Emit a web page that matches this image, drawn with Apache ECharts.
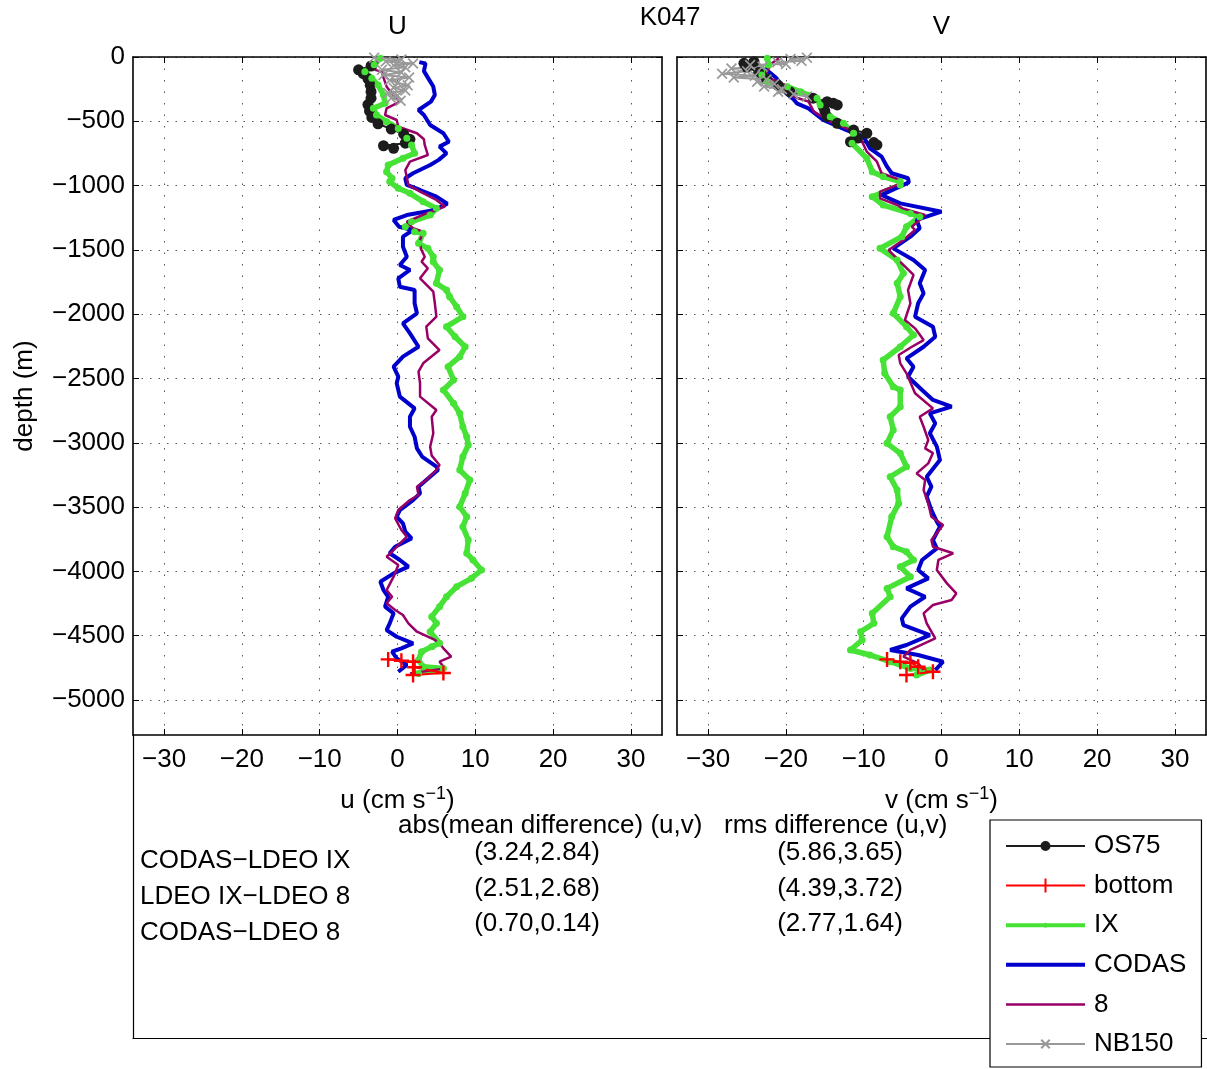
<!DOCTYPE html>
<html><head><meta charset="utf-8">
<script src="https://cdn.jsdelivr.net/npm/echarts@6/dist/echarts.min.js"></script>
<style>html,body{margin:0;padding:0;background:#fff}#c{width:1207px;height:1069px}</style>
</head><body><div id="c"></div>
<script>
// ---------- DATA (depth [m], velocity [cm/s]) ----------
const seriesNames = ['OS75', 'bottom', 'IX', 'CODAS', '8', 'NB150'];
const panelTitles = ['U', 'V'];
const stationTitle = 'K047';
const xTickLabels = [-30, -20, -10, 0, 10, 20, 30];
const yTickLabels = [0, -500, -1000, -1500, -2000, -2500, -3000, -3500, -4000, -4500, -5000];

const U_OS75 = [[-70,-3.4],[-100,-5.0],[-130,-4.4],[-170,-3.8],[-220,-3.5],[-270,-3.4],[-320,-3.4],[-370,-3.8],[-420,-3.6],[-470,-3.3],[-520,-2.5],[-560,-0.8],[-600,0.8],[-640,1.6],[-670,1.0],[-690,-1.8],[-710,-0.5]];
const U_bottom = [[-4684,-1.2],[-4695,0.5],[-4702,2.0],[-4745,2.2],[-4790,5.9],[-4805,2.0]];
const U_IX = [[-10,-2.2],[-60,-3.0],[-114,-4.2],[-166,-3.3],[-218,-2.5],[-295,-1.8],[-360,-1.6],[-399,-3.1],[-451,-2.7],[-503,-1.4],[-555,0.1],[-632,1.2],[-684,1.8],[-749,2.2],[-788,0.7],[-840,-1.2],[-892,-1.4],[-943,-0.7],[-969,-1.0],[-1021,0.1],[-1060,1.6],[-1125,3.3],[-1177,5.0],[-1229,4.2],[-1281,1.8],[-1320,1.0],[-1358,2.2],[-1371,3.3],[-1449,2.7],[-1488,3.9],[-1553,4.6],[-1592,4.6],[-1656,5.4],[-1760,5.0],[-1812,6.3],[-1864,6.7],[-1942,7.6],[-2019,8.4],[-2097,6.3],[-2175,7.4],[-2253,8.7],[-2330,8.0],[-2408,6.5],[-2512,7.2],[-2589,5.9],[-2693,7.2],[-2771,8.0],[-2875,8.4],[-2953,8.9],[-3017,9.1],[-3108,8.4],[-3211,8.0],[-3289,9.3],[-3393,8.7],[-3497,8.0],[-3575,8.9],[-3653,8.4],[-3756,9.1],[-3859,8.9],[-3911,9.7],[-3989,10.8],[-4054,9.5],[-4119,7.6],[-4197,6.3],[-4274,5.4],[-4352,4.4],[-4404,5.0],[-4469,4.2],[-4559,5.4],[-4585,4.4],[-4624,3.1],[-4689,2.7],[-4741,3.3],[-4754,5.9],[-4793,2.7]];
const U_CODAS = [[-40,2.8],[-50,3.6],[-110,3.4],[-170,4.0],[-230,4.6],[-295,4.8],[-347,4.3],[-412,2.7],[-451,3.4],[-529,4.2],[-593,5.9],[-659,6.6],[-697,5.4],[-749,6.3],[-800,5.3],[-840,4.2],[-904,2.0],[-943,1.0],[-995,1.2],[-1034,2.9],[-1086,5.0],[-1140,6.4],[-1190,4.8],[-1229,1.2],[-1267,-0.5],[-1320,0.2],[-1345,2.0],[-1397,0.7],[-1475,0.7],[-1553,1.2],[-1617,0.3],[-1656,1.6],[-1721,0.1],[-1786,0.3],[-1812,2.2],[-1915,2.2],[-1993,2.5],[-2071,0.7],[-2149,1.6],[-2253,2.7],[-2330,0.7],[-2408,-0.5],[-2486,0.1],[-2537,-0.1],[-2641,0.3],[-2732,2.2],[-2797,1.6],[-2875,1.6],[-2953,2.2],[-3043,2.5],[-3110,3.2],[-3186,5.0],[-3211,5.2],[-3289,3.7],[-3341,2.7],[-3393,2.9],[-3445,2.0],[-3523,0.3],[-3575,-0.1],[-3626,0.7],[-3690,1.0],[-3743,1.8],[-3808,-0.3],[-3859,-1.0],[-3911,0.3],[-3963,1.4],[-4015,-0.5],[-4080,-2.2],[-4145,-1.8],[-4197,-1.2],[-4274,-1.6],[-4326,-0.5],[-4404,-1.0],[-4456,-1.4],[-4508,-0.1],[-4559,2.0],[-4598,0.5],[-4624,-0.7],[-4676,-0.1],[-4728,1.2],[-4780,0.1]];
const U_8 = [[-20,-2.5],[-100,-2.9],[-114,-2.0],[-160,-1.8],[-231,-1.4],[-300,-0.5],[-347,0.3],[-399,-1.4],[-451,-1.6],[-490,-0.1],[-542,0.1],[-593,2.5],[-640,3.4],[-684,3.5],[-762,3.9],[-814,1.6],[-879,1.0],[-995,1.4],[-1047,2.9],[-1112,5.0],[-1164,6.1],[-1216,3.7],[-1281,1.2],[-1332,2.0],[-1358,3.3],[-1423,2.9],[-1490,3.0],[-1553,3.5],[-1592,3.1],[-1643,3.9],[-1721,2.9],[-1825,4.6],[-1915,4.8],[-2019,5.0],[-2097,3.7],[-2188,3.9],[-2279,5.4],[-2382,3.3],[-2447,2.7],[-2537,2.9],[-2641,2.9],[-2745,5.0],[-2797,4.4],[-2926,4.6],[-3030,4.2],[-3100,4.4],[-3173,5.4],[-3211,5.0],[-3289,3.7],[-3341,2.5],[-3406,2.7],[-3445,1.6],[-3523,0.1],[-3587,-0.3],[-3678,0.5],[-3730,1.2],[-3790,0.2],[-3847,-0.7],[-3886,-1.4],[-3950,0.1],[-4041,-0.5],[-4145,-1.4],[-4197,-0.7],[-4248,-1.4],[-4300,-0.3],[-4339,0.7],[-4404,1.4],[-4469,2.5],[-4533,4.8],[-4559,5.4],[-4598,5.9],[-4663,6.9],[-4702,5.4],[-4754,6.1],[-4793,1.6]];
const U_NB150 = [[-5,-3.0],[-20,0.5],[-35,-1.5],[-50,2.0],[-65,-0.5],[-80,1.0],[-100,-2.0],[-120,0.5],[-140,-1.8],[-160,1.5],[-180,-1.0],[-200,0.0],[-220,1.3],[-240,-0.5],[-260,1.0],[-280,-1.2],[-300,0.0],[-320,-0.8],[-340,0.4]];

const V_OS75 = [[-36,-24.1],[-49,-25.4],[-80,-25.0],[-120,-23.5],[-170,-22.5],[-220,-21.0],[-270,-19.5],[-320,-16.5],[-347,-14.7],[-360,-13.9],[-373,-13.4],[-386,-15.2],[-420,-15.0],[-464,-14.7],[-516,-13.4],[-568,-11.3],[-593,-9.6],[-630,-10.8],[-659,-11.7],[-665,-8.7],[-684,-8.3]];
const V_bottom = [[-4684,-7.0],[-4702,-5.3],[-4710,-4.0],[-4741,-3.0],[-4780,-1.1],[-4806,-4.5]];
const V_IX = [[-10,-22.4],[-62,-22.2],[-140,-23.1],[-192,-22.4],[-231,-19.8],[-270,-18.1],[-321,-16.0],[-373,-15.6],[-464,-14.3],[-516,-12.6],[-593,-11.3],[-671,-11.5],[-788,-9.6],[-892,-8.9],[-931,-7.5],[-969,-5.3],[-995,-5.3],[-1086,-8.9],[-1151,-7.5],[-1216,-4.0],[-1242,-2.8],[-1320,-4.5],[-1397,-5.1],[-1488,-7.9],[-1578,-5.7],[-1682,-4.9],[-1760,-5.7],[-1864,-5.3],[-1993,-6.2],[-2097,-4.5],[-2162,-3.6],[-2253,-5.3],[-2356,-7.5],[-2460,-7.3],[-2564,-6.2],[-2589,-5.3],[-2719,-5.3],[-2797,-6.6],[-2900,-6.2],[-3004,-7.0],[-3082,-5.3],[-3186,-4.5],[-3264,-6.6],[-3367,-5.7],[-3471,-5.5],[-3575,-6.4],[-3730,-7.0],[-3808,-6.2],[-3847,-4.5],[-3911,-3.6],[-3963,-5.3],[-4041,-4.0],[-4132,-7.0],[-4197,-6.6],[-4326,-8.9],[-4404,-8.7],[-4469,-10.4],[-4533,-10.2],[-4611,-11.7],[-4650,-9.2],[-4702,-6.6],[-4754,-4.0],[-4767,-1.5],[-4806,-3.2]];
const V_CODAS = [[-45,-22.0],[-100,-22.5],[-160,-21.3],[-220,-20.5],[-280,-20.0],[-330,-19.0],[-360,-18.6],[-373,-18.8],[-399,-17.1],[-490,-15.2],[-568,-12.2],[-620,-10.0],[-710,-9.2],[-775,-7.7],[-853,-7.0],[-904,-6.4],[-943,-4.3],[-975,-4.2],[-1073,-7.7],[-1138,-5.3],[-1203,0.0],[-1267,-3.2],[-1332,-2.8],[-1397,-4.0],[-1488,-6.2],[-1578,-3.6],[-1656,-2.1],[-1760,-2.8],[-1838,-2.3],[-1915,-3.0],[-2019,-3.4],[-2097,-1.1],[-2175,-0.8],[-2253,-2.3],[-2343,-4.5],[-2408,-3.6],[-2486,-4.3],[-2589,-2.5],[-2667,-1.1],[-2719,1.3],[-2771,-1.5],[-2849,-0.8],[-2926,-1.5],[-3030,-0.6],[-3134,-0.2],[-3264,-1.9],[-3341,-1.3],[-3419,-1.9],[-3523,-1.3],[-3613,-0.6],[-3653,-0.2],[-3756,-1.1],[-3821,-0.6],[-3911,-2.5],[-3989,-3.0],[-4054,-1.7],[-4132,-4.5],[-4197,-2.1],[-4274,-4.0],[-4365,-5.1],[-4417,-4.9],[-4495,-1.5],[-4572,-4.5],[-4611,-6.6],[-4650,-3.0],[-4702,0.2],[-4767,-0.8]];
const V_8 = [[-10,-20.9],[-49,-21.8],[-127,-22.6],[-166,-22.0],[-218,-20.1],[-270,-20.3],[-321,-18.4],[-347,-17.1],[-425,-16.4],[-503,-14.3],[-593,-10.7],[-632,-10.4],[-736,-9.6],[-814,-8.3],[-904,-7.7],[-956,-5.3],[-982,-5.1],[-1047,-7.9],[-1099,-7.9],[-1151,-5.7],[-1177,-5.0],[-1229,-2.1],[-1320,-3.8],[-1345,-3.4],[-1423,-4.9],[-1501,-6.8],[-1604,-5.1],[-1695,-3.6],[-1812,-4.3],[-1915,-4.0],[-2045,-4.7],[-2110,-3.4],[-2201,-2.3],[-2253,-3.8],[-2317,-5.5],[-2382,-5.3],[-2460,-4.5],[-2615,-3.4],[-2732,-1.1],[-2797,-2.8],[-2875,-2.3],[-2978,-1.7],[-3043,-2.1],[-3080,-1.1],[-3160,-1.7],[-3238,-3.2],[-3289,-2.1],[-3367,-2.3],[-3471,-1.7],[-3575,-1.3],[-3639,0.2],[-3756,-1.3],[-3808,-1.1],[-3859,1.5],[-3911,-0.4],[-3989,-0.6],[-4093,0.7],[-4171,1.9],[-4222,1.3],[-4261,-1.1],[-4326,-2.3],[-4404,-1.9],[-4520,-0.8],[-4611,-4.0],[-4663,-4.9],[-4715,-3.0],[-4767,-2.3]];
const V_NB150 = [[-5,-17.3],[-15,-19.4],[-30,-18.0],[-40,-21.1],[-55,-20.0],[-62,-24.6],[-75,-23.0],[-90,-27.0],[-110,-25.0],[-130,-28.2],[-145,-24.0],[-160,-26.7],[-175,-22.5],[-192,-23.7],[-210,-21.5],[-230,-22.8],[-250,-20.5],[-270,-21.0],[-290,-19.0],[-308,-17.3]];

const pairLabels = ['CODAS\u2212LDEO IX', 'LDEO IX\u2212LDEO 8', 'CODAS\u2212LDEO 8'];
const meanDiff = ['(3.24,2.84)', '(2.51,2.68)', '(0.70,0.14)'];
const rmsDiff = ['(5.86,3.65)', '(4.39,3.72)', '(2.77,1.64)'];
const headMean = 'abs(mean difference) (u,v)';
const headRms = 'rms difference (u,v)';

// ---------- STYLE ----------
const FONT = 'Liberation Sans';
const FS = 26;
const PLUS = 'path://M4.2,0H5.8V4.2H10V5.8H5.8V10H4.2V5.8H0V4.2H4.2Z';
const CROSS = 'path://M1.1,0L5,3.9L8.9,0L10,1.1L6.1,5L10,8.9L8.9,10L5,6.1L1.1,10L0,8.9L3.9,5L0,1.1Z';
// legend icons: line + marker, drawn in a 79x14 box
const LINE2 = 'M0,6H79V8H0Z';
const STYLE = {
  'OS75':  {color:'#1c1c1c', width:2,   symbol:'circle', size:11,
            icon:'path://' + LINE2 + 'M34.5,7a5,5 0 1,1 10,0a5,5 0 1,1 -10,0Z'},
  'bottom':{color:'#ff0000', width:2,   symbol:PLUS,     size:15,
            icon:'path://' + LINE2 + 'M38.5,0H40.5V14H38.5Z'},
  'IX':    {color:'#46e236', width:5.5, symbol:'circle', size:7,
            icon:'path://M0,5H79V9H0Z' + 'M37,7a2.5,2.5 0 1,1 5,0a2.5,2.5 0 1,1 -5,0Z'},
  'CODAS': {color:'#0000cc', width:4,   symbol:'none',   size:0,
            icon:'path://M0,5H79V9H0Z'},
  '8':     {color:'#990066', width:2.5, symbol:'none',   size:0,
            icon:'path://M0,5.75H79V8.25H0Z'},
  'NB150': {color:'#999999', width:2,   symbol:CROSS,    size:11,
            icon:'path://' + LINE2 + 'M34.5,3.4L35.9,2L44.5,10.6L43.1,12Z' + 'M43.1,2L44.5,3.4L35.9,12L34.5,10.6Z'}
};
const drawOrder = ['OS75', 'IX', 'CODAS', '8', 'bottom', 'NB150'];
const DATA = [
  {OS75:U_OS75, bottom:U_bottom, IX:U_IX, CODAS:U_CODAS, '8':U_8, NB150:U_NB150},
  {OS75:V_OS75, bottom:V_bottom, IX:V_IX, CODAS:V_CODAS, '8':V_8, NB150:V_NB150}
];

function fmt(v){ return v < 0 ? '\u2212' + Math.abs(v) : String(v); }

const panels = [{left:133, width:529}, {left:677, width:529}];
const TOP = 57, H = 678;

const grids = panels.map(p => ({left:p.left, top:TOP, width:p.width, height:H, containLabel:false}));
grids.push({left:133, top:735, width:1100, height:303});

const axLine = {show:true, onZero:false, lineStyle:{color:'#000', width:1.6}};
const tick = vals => ({show:true, inside:true, length:6, customValues:vals, lineStyle:{color:'#000', width:1}});
const xAxes = [], yAxes = [];
panels.forEach((p, i) => {
  xAxes.push({
    gridIndex:i, type:'value', min:-34, max:34,
    position:'bottom', axisLine:axLine, axisTick:tick(xTickLabels),
    axisLabel:{show:true, color:'#000', fontFamily:FONT, fontSize:FS, margin:12, formatter:fmt, customValues:xTickLabels},
    splitLine:{show:true, lineStyle:{color:'#555', width:1, type:[1.5, 10]}},
    name: (i === 0 ? 'u' : 'v') + ' (cm s{sup|\u22121})',
    nameLocation:'middle', nameGap:50,
    nameTextStyle:{color:'#000', fontFamily:FONT, fontSize:FS, lineHeight:32,
      rich:{sup:{fontFamily:FONT, fontSize:18, color:'#000', verticalAlign:'top', lineHeight:32}}}
  });
  xAxes.push({
    gridIndex:i, type:'value', min:-34, max:34,
    position:'top', axisLine:axLine, axisTick:tick(xTickLabels),
    axisLabel:{show:false}, splitLine:{show:false}
  });
  yAxes.push({
    gridIndex:i, type:'value', min:-5272, max:0,
    position:'left', axisLine:axLine, axisTick:tick(yTickLabels),
    axisLabel:{show:i === 0, color:'#000', fontFamily:FONT, fontSize:FS, margin:8, formatter:fmt, customValues:yTickLabels},
    splitLine:{show:true, lineStyle:{color:'#555', width:1, type:[1.5, 7]}},
    name: i === 0 ? 'depth (m)' : '', nameLocation:'middle', nameGap:95, nameRotate:90,
    nameTextStyle:{color:'#000', fontFamily:FONT, fontSize:FS}
  });
  yAxes.push({
    gridIndex:i, type:'value', min:-5272, max:0,
    position:'right', axisLine:axLine, axisTick:tick(yTickLabels),
    axisLabel:{show:false}, splitLine:{show:false}
  });
});
// frame of the statistics box (left and bottom lines only)
xAxes.push({gridIndex:2, type:'value', min:0, max:1, position:'bottom', axisLine:{show:true, onZero:false, lineStyle:{color:'#000', width:1.2}}, axisTick:{show:false}, axisLabel:{show:false}, splitLine:{show:false}});
yAxes.push({gridIndex:2, type:'value', min:0, max:1, position:'left', axisLine:{show:true, onZero:false, lineStyle:{color:'#000', width:1.2}}, axisTick:{show:false}, axisLabel:{show:false}, splitLine:{show:false}});

const series = [];
[0, 1].forEach(i => {
  drawOrder.forEach(name => {
    const st = STYLE[name];
    series.push({
      type:'line', name:name, xAxisIndex:i*2, yAxisIndex:i*2,
      data: DATA[i][name].map(p => [p[1], p[0]]),
      symbol: st.symbol, symbolSize: st.size, showSymbol: st.symbol !== 'none', showAllSymbol:true,
      lineStyle:{color:st.color, width:st.width},
      itemStyle:{color:st.color, borderWidth:0},
      emphasis:{disabled:true}, animation:false, clip:true, silent:true
    });
  });
});

const txt = (x, y, s, align, va) => ({type:'text', x:x, y:y, silent:true, z:10,
  style:{text:s, fontFamily:FONT, fontSize:FS, fill:'#000', align:align || 'left', verticalAlign:va || 'middle'}});
const graphics = [
  txt(397.5, 27, panelTitles[0], 'center'),
  txt(941.5, 27, panelTitles[1], 'center'),
  txt(670, 18, stationTitle, 'center'),
  txt(398, 826, headMean, 'left'),
  txt(724, 826, headRms, 'left')
];
pairLabels.forEach((s, k) => {
  graphics.push(txt(140, 861 + 36*k, s, 'left'));
  graphics.push(txt(537, 853 + 35.5*k, meanDiff[k], 'center'));
  graphics.push(txt(840, 853 + 35.5*k, rmsDiff[k], 'center'));
});

const chart = echarts.init(document.getElementById('c'), null, {renderer:'canvas'});
chart.setOption({
  backgroundColor:'#fff',
  animation:false,
  grid: grids,
  xAxis: xAxes,
  yAxis: yAxes,
  series: series,
  legend: {
    data: seriesNames.map(n => ({name:n, icon:STYLE[n].icon, itemStyle:{color:STYLE[n].color, borderWidth:0}})),
    orient:'vertical', left:990, top:820,
    itemWidth:79, itemHeight:14, itemGap:13.6, symbolKeepAspect:true,
    padding:[13, 15, 10, 16],
    backgroundColor:'#fff', borderColor:'#000', borderWidth:1.2,
    textStyle:{fontFamily:FONT, fontSize:FS, color:'#000', lineHeight:26, padding:[0,0,0,4]},
    selectedMode:false, z:20
  },
  graphic: graphics
});
</script></body></html>
